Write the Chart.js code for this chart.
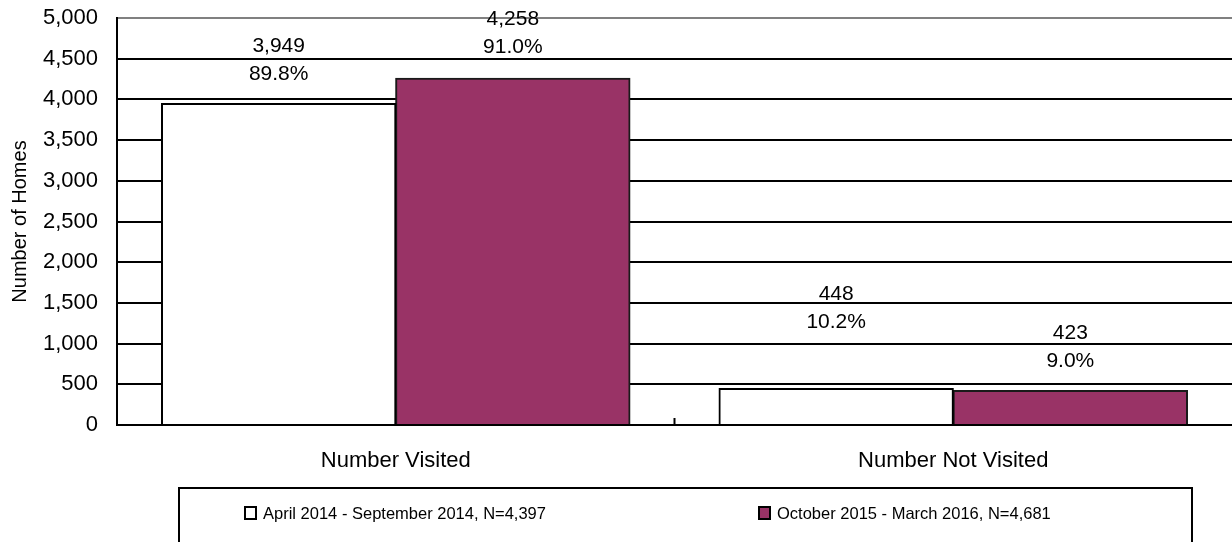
<!DOCTYPE html>
<html lang="en">
<head>
    <meta charset="UTF-8">
    <title>Number of Homes Visited</title>
    <script src="https://cdn.jsdelivr.net/npm/chart.js"></script>
    <style>
        body { margin: 0; background: #fff; }
    </style>
</head>
<body>
    <canvas id="myChart" width="1232" height="542"></canvas>

    <script>
        const categories = ['Number Visited', 'Number Not Visited'];
        const seriesLabels = [
            'April 2014 - September 2014, N=4,397',
            'October 2015 - March 2016, N=4,681'
        ];
        const period1 = [3949, 448];
        const period2 = [4258, 423];
        const period1Pct = ['89.8%', '10.2%'];
        const period2Pct = ['91.0%', '9.0%'];
        const yTicks = [0, 500, 1000, 1500, 2000, 2500, 3000, 3500, 4000, 4500, 5000];

        const FONT = 'Liberation Sans, Arial, sans-serif';
        const MAROON = '#993366';

        // value + percent labels above each bar
        const barLabels = {
            id: 'barLabels',
            afterDatasetsDraw(chart) {
                const ctx = chart.ctx;
                const pcts = [period1Pct, period2Pct];
                // how far the percent line sits above the bar top
                const lift = [[29, 66], [31, 29]];
                ctx.save();
                ctx.font = '21px ' + FONT;
                ctx.fillStyle = '#000';
                ctx.textAlign = 'center';
                ctx.textBaseline = 'middle';
                chart.data.datasets.forEach((ds, i) => {
                    chart.getDatasetMeta(i).data.forEach((bar, j) => {
                        const y = bar.y - lift[i][j];
                        ctx.fillText(ds.data[j].toLocaleString('en-US'), bar.x, y - 28);
                        ctx.fillText(pcts[i][j], bar.x, y);
                    });
                });
                ctx.restore();
            }
        };

        // small inner tick between categories + boxed legend underneath
        const extras = {
            id: 'extras',
            afterDraw(chart) {
                const ctx = chart.ctx;
                const x = chart.scales.x;
                const bottom = chart.chartArea.bottom;
                const mid = (x.getPixelForValue(0) + x.getPixelForValue(1)) / 2;
                ctx.save();
                ctx.strokeStyle = '#000';
                ctx.lineWidth = 2;
                ctx.beginPath();
                ctx.moveTo(mid, bottom);
                ctx.lineTo(mid, bottom - 7);
                ctx.stroke();

                // legend box
                ctx.lineWidth = 2;
                ctx.strokeRect(179, 488, 1013, 70);
                ctx.font = '16.5px ' + FONT;
                ctx.textBaseline = 'middle';
                ctx.textAlign = 'left';
                const items = [[245, 0], [759, 1]];
                items.forEach(([lx, i]) => {
                    const ds = chart.data.datasets[i];
                    ctx.fillStyle = ds.backgroundColor;
                    ctx.fillRect(lx, 507, 11, 12);
                    ctx.lineWidth = 2;
                    ctx.strokeStyle = '#000';
                    ctx.strokeRect(lx, 507, 11, 12);
                    ctx.fillStyle = '#000';
                    ctx.fillText(ds.label, lx + 18, 514);
                });
                ctx.restore();
            }
        };

        const ctx = document.getElementById('myChart').getContext('2d');
        const myChart = new Chart(ctx, {
            type: 'bar',
            data: {
                labels: categories,
                datasets: [
                    {
                        label: seriesLabels[0],
                        data: period1,
                        backgroundColor: '#ffffff',
                        borderColor: '#000',
                        borderWidth: 2,
                        inflateAmount: 0.6
                    },
                    {
                        label: seriesLabels[1],
                        data: period2,
                        backgroundColor: MAROON,
                        borderColor: '#1a1a1a',
                        borderWidth: 2,
                        inflateAmount: 0.6
                    }
                ]
            },
            options: {
                responsive: false,
                animation: false,
                layout: { padding: { top: 18, left: 0, right: 0, bottom: 0 } },
                datasets: {
                    bar: { categoryPercentage: 0.84, barPercentage: 1.0 }
                },
                plugins: {
                    legend: { display: false },
                    tooltip: { enabled: false }
                },
                scales: {
                    x: {
                        grid: { display: false, drawTicks: false },
                        border: { color: '#000', width: 2 },
                        ticks: { color: '#000', font: { family: FONT, size: 22 }, padding: 23 },
                        afterFit(scale) { scale.height = 117; }
                    },
                    y: {
                        min: 0,
                        max: 5000,
                        afterBuildTicks(scale) {
                            scale.ticks = yTicks.map(v => ({ value: v }));
                        },
                        grid: {
                            drawTicks: false,
                            lineWidth: 2,
                            color: c => c.tick && c.tick.value === 5000 ? '#808080' : '#000'
                        },
                        border: { color: '#000', width: 2 },
                        ticks: {
                            color: '#000',
                            padding: 19,
                            font: { family: FONT, size: 22 },
                            callback: v => v.toLocaleString('en-US')
                        },
                        title: {
                            display: true,
                            text: 'Number of Homes',
                            color: '#000',
                            font: { family: FONT, size: 20 },
                            padding: { top: 8, bottom: 0 }
                        },
                        afterFit(scale) {
                            scale.width = 117;
                            scale.paddingTop = 0;
                            scale.paddingBottom = 0;
                        }
                    }
                }
            },
            plugins: [barLabels, extras]
        });
    </script>
</body>
</html>
